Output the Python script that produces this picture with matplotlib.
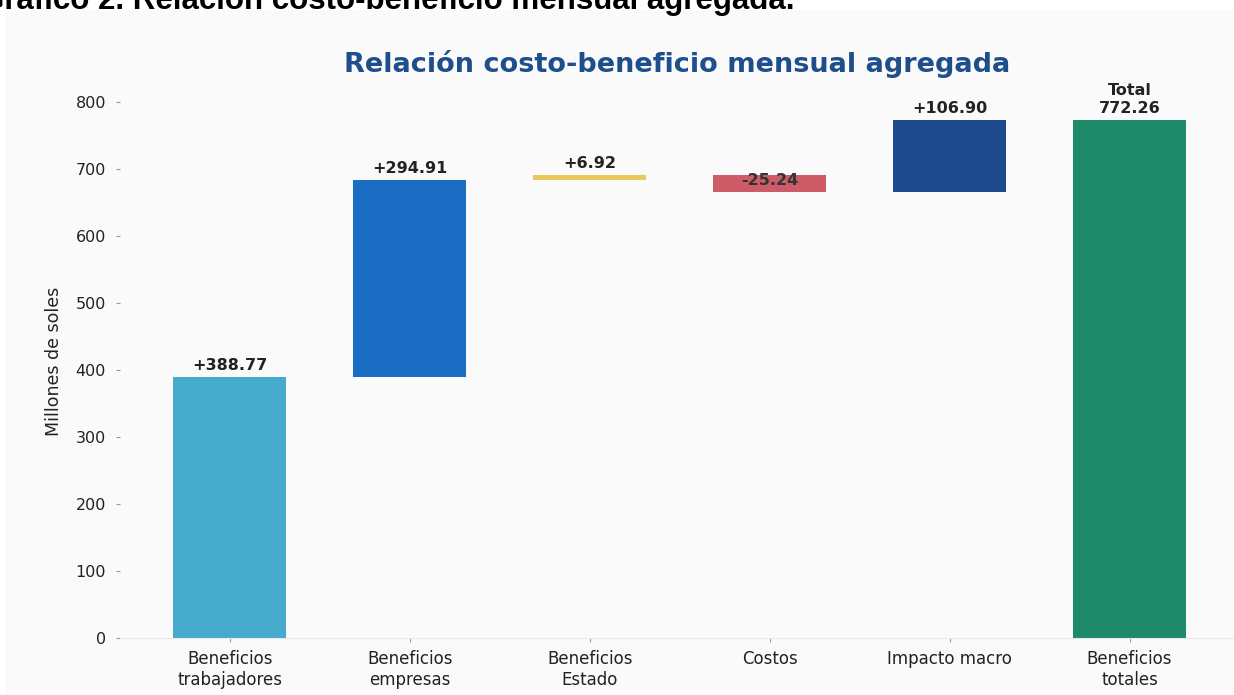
import matplotlib
matplotlib.use("Agg")
import matplotlib.pyplot as plt
from matplotlib.patches import Rectangle

# Data for the waterfall
categories = ["Beneficios\ntrabajadores", "Beneficios\nempresas", "Beneficios\nEstado",
              "Costos", "Impacto macro", "Beneficios\ntotales"]
changes = [388.77, 294.91, 6.92, -25.24, 106.90]
total = 772.26
colors = ["#45aacb", "#1a6dc2", "#e8c95a", "#cd5c68", "#1c4a8c", "#1f8a6a"]

fig = plt.figure(figsize=(12.34, 6.95), dpi=100)
fig.patch.set_facecolor("white")

# off-white panel behind the chart image
fig.patches.append(Rectangle((5 / 1234, 0), 1, 1 - 10 / 695, transform=fig.transFigure,
                             facecolor="#fafafa", edgecolor="none", zorder=-5))

# cropped document heading at the very top
fig.text(-0.016, 1 - 9 / 695, "Gráfico 2. Relación costo-beneficio mensual agregada.",
         fontsize=22.5, fontweight="bold", family="Liberation Sans", color="black",
         va="baseline", ha="left")

ax = fig.add_axes([120 / 1234, 57 / 695, 1114 / 1234, 553 / 695])
ax.set_facecolor("none")
ax.set_zorder(2)

# compute bar bottoms for the waterfall
bottoms = []
running = 0
for c in changes:
    if c >= 0:
        bottoms.append(running)
    else:
        bottoms.append(running + c)
    running += c

x = list(range(len(categories)))
heights = [abs(c) for c in changes] + [total]
bases = bottoms + [0]
ax.bar(x, heights, bottom=bases, width=0.63, color=colors, zorder=2)

# value labels
for i, c in enumerate(changes):
    if c >= 0:
        ax.text(i, bases[i] + heights[i] + 6, f"+{c:.2f}", ha="center", va="bottom",
                fontsize=11.5, fontweight="bold", color="#222222", zorder=3)
    else:
        ax.text(i, bases[i] + 6, f"{c:.2f}", ha="center", va="bottom",
                fontsize=11.5, fontweight="bold", color="#333333", zorder=3)
ax.text(5, total + 6, f"Total\n{total:.2f}", ha="center", va="bottom",
        fontsize=11.5, fontweight="bold", color="#222222", linespacing=1.25, zorder=3)

ax.set_xlim(-0.61, 5.58)
ax.set_ylim(0, 825)
ax.set_yticks(range(0, 801, 100))
ax.set_xticks(x)
ax.set_xticklabels(categories, fontsize=12, color="#222222")
ax.tick_params(axis="y", labelsize=11.5, colors="#222222", length=3, color="#999999", pad=7)
ax.tick_params(axis="x", length=3, color="#999999", pad=6)
ax.set_ylabel("Millones de soles", fontsize=12.5, color="#222222", labelpad=9)

for side in ["top", "right", "left"]:
    ax.spines[side].set_visible(False)
ax.spines["bottom"].set_color("#e8e8e8")

ax.set_title("Relación costo-beneficio mensual agregada", fontsize=19.5, fontweight="bold",
             color="#1f4e8c", pad=9)

fig.savefig("out.png", dpi=100)
